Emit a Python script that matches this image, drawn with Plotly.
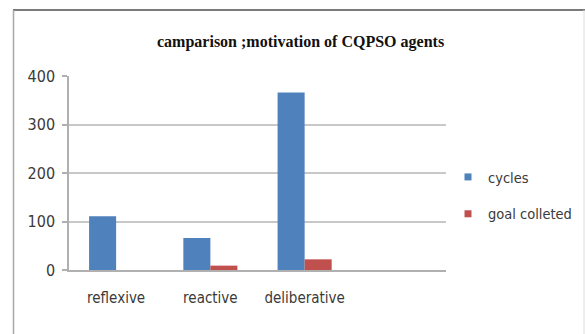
import plotly.graph_objects as go

# Agent types and measured results
categories = ["reflexive", "reactive", "deliberative"]
cycles = [111, 66, 366]
goal_collected = [0, 9, 22]
y_ticks = [0, 100, 200, 300, 400]

BLUE = "#4F81BD"
RED = "#C0504D"
NARROW = "DejaVu Sans Condensed, Liberation Sans Narrow, Arial Narrow, sans-serif"
TICK_FONT = dict(family=NARROW, size=16, color="#3a3a3a")
CAT_FONT = dict(family=NARROW, size=15, color="#3a3a3a")
LEG_FONT = dict(family=NARROW, size=14.5, color="#3a3a3a")

W, H = 585, 334
L, R, T, B = 69, 446, 76, 270  # plot area in pixels


def px_x(p):
    return (p - L) / (R - L)


def px_y(p):
    return (B - p) / (B - T)


fig = go.Figure()
fig.add_trace(go.Bar(x=categories, y=cycles, name="cycles", marker=dict(color=BLUE, line=dict(width=0)),
                     showlegend=False))
fig.add_trace(go.Bar(x=categories, y=goal_collected, name="goal colleted",
                     marker=dict(color=RED, line=dict(width=0)), showlegend=False))

# Legend entries with small square swatches
for name, col, grp in [("cycles", BLUE, "a"), ("goal colleted", RED, "b")]:
    fig.add_trace(go.Scatter(x=[None], y=[None], mode="markers", name=name, legendgroup=grp,
                             marker=dict(symbol="square", size=7, color=col)))

fig.update_layout(
    width=W, height=H,
    margin=dict(l=L, r=W - R, t=T, b=H - B, autoexpand=False),
    paper_bgcolor="white", plot_bgcolor="white",
    barmode="group", bargap=0.426, bargroupgap=0,
    showlegend=True,
    legend=dict(x=px_x(448), y=px_y(161), xanchor="left", yanchor="top",
                font=LEG_FONT, tracegroupgap=15, itemwidth=30,
                bgcolor="rgba(0,0,0,0)"),
    xaxis=dict(range=[-0.5, 3.5], showgrid=False, showline=True, linecolor="#b0b0b0", linewidth=1.5,
               ticks="", tickfont=CAT_FONT, ticklabelstandoff=13, fixedrange=True),
    yaxis=dict(range=[0, 400], tickvals=y_ticks, showgrid=True, gridcolor="#c8c8c8", gridwidth=1.8,
               showline=True, linecolor="#b0b0b0", linewidth=1.5, zeroline=False,
               ticks="outside", ticklen=5, tickcolor="#b0b0b0", tickwidth=1.5,
               tickfont=TICK_FONT, ticklabelstandoff=4, fixedrange=True),
    annotations=[dict(text="<b>camparison ;motivation of CQPSO agents</b>", xref="paper", yref="paper",
                      x=px_x(300), y=px_y(42), xanchor="center", yanchor="middle", showarrow=False,
                      font=dict(family="Liberation Serif, Times New Roman, serif", size=16, color="#111111"))],
    shapes=[
        dict(type="line", xref="paper", yref="paper", x0=px_x(13), x1=px_x(585), y0=px_y(10), y1=px_y(10),
             line=dict(color="#7a7a7a", width=2)),
        dict(type="line", xref="paper", yref="paper", x0=px_x(13.5), x1=px_x(13.5), y0=px_y(10), y1=px_y(340),
             line=dict(color="#a6a6a6", width=1.5)),
        dict(type="line", xref="paper", yref="paper", x0=px_x(584), x1=px_x(584), y0=px_y(10), y1=px_y(340),
             line=dict(color="#dcdcdc", width=1)),
    ],
)

fig.write_html("out.html")
